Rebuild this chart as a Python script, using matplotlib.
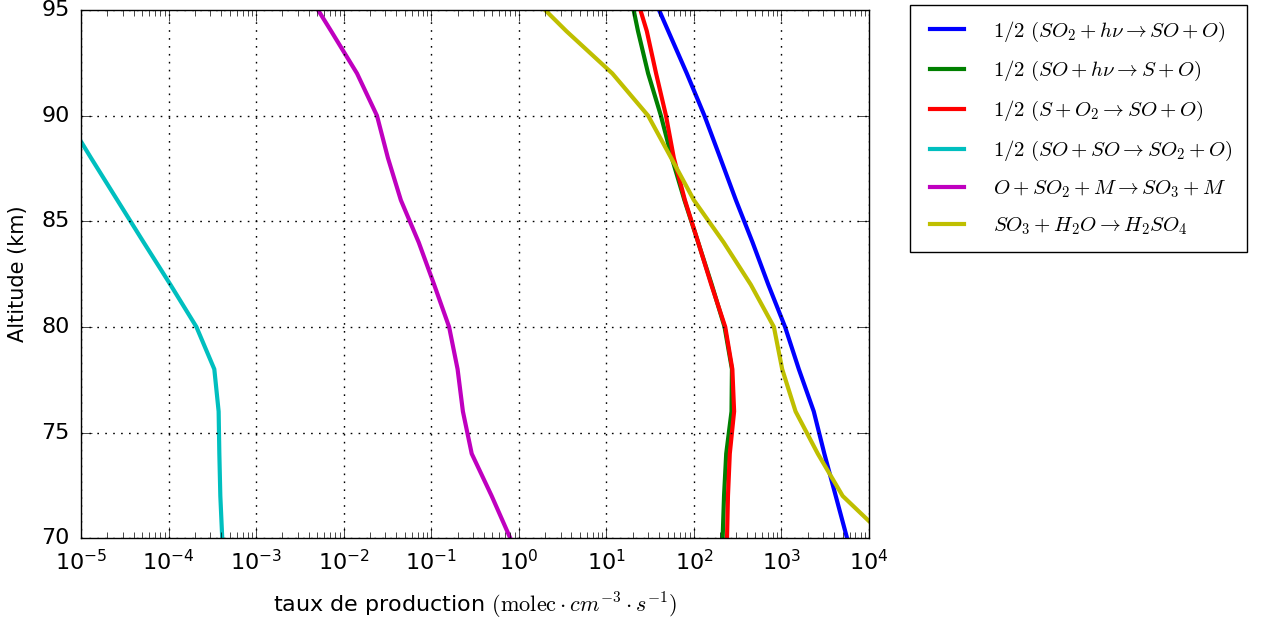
import numpy as np
import matplotlib
matplotlib.use("Agg")
import matplotlib.pyplot as plt

plt.style.use('classic')
plt.rcParams['figure.facecolor'] = 'white'
plt.rcParams['savefig.facecolor'] = 'white'

# altitude grid (km)
altitude = [70, 72, 74, 76, 78, 80, 82, 84, 86, 88, 90, 92, 94, 95]

# production rates (molec cm-3 s-1)
so2_photolysis = [5620, 4170, 3090, 2340, 1580, 1100, 708, 468, 302, 200, 132, 83, 51, 40]
so_photolysis = [213, 221, 234, 269, 272, 224, 160, 112, 78, 56, 42, 30, 23, 20.5]
s_plus_o2 = [239, 245, 257, 288, 275, 228, 158, 112, 79, 59, 48, 37, 29, 24.5]
so_plus_so = [4.1e-4, 3.9e-4, 3.8e-4, 3.73e-4, 3.33e-4, 2.08e-4, 1.05e-4, 5.2e-5,
              2.6e-5, 1.3e-5, 6.6e-6, 3.3e-6, 1.7e-6, 1.2e-6]
o_so2_m = [0.80, 0.49, 0.29, 0.23, 0.20, 0.16, 0.108, 0.072, 0.045, 0.032, 0.024,
           0.0142, 0.0072, 0.0051]
so3_h2o = [16000, 5000, 2600, 1450, 1020, 820, 447, 219, 100, 55, 30, 11.7, 3.5, 2.0]

labels = [
    r'$1/2\ (SO_2 + h\nu \rightarrow SO + O)$',
    r'$1/2\ (SO + h\nu \rightarrow S + O)$',
    r'$1/2\ (S + O_2 \rightarrow SO + O)$',
    r'$1/2\ (SO + SO \rightarrow SO_2 + O)$',
    r'$O + SO_2 + M \rightarrow SO_3 + M$',
    r'$SO_3 + H_2O \rightarrow H_2SO_4$',
]
series = [so2_photolysis, so_photolysis, s_plus_o2, so_plus_so, o_so2_m, so3_h2o]
colors = ['b', 'g', 'r', 'c', 'm', 'y']

fig = plt.figure(figsize=(12.74, 6.28), dpi=100)
ax = fig.add_axes([0.0636, 0.143, 0.6185, 0.841])

for vals, lab, col in zip(series, labels, colors):
    ax.plot(vals, altitude, color=col, lw=3, label=lab)

ax.set_xscale('log')
ax.set_xlim(1e-5, 1e4)
ax.set_ylim(70, 95)
ax.grid(True, linestyle=(0, (1.2, 4.5)), linewidth=1.0, color='k')
ax.set_xlabel(r'taux de production $(\mathrm{molec} \cdot cm^{-3} \cdot s^{-1})$',
              fontsize=16, labelpad=12)
ax.set_ylabel('Altitude (km)', fontsize=15, labelpad=10)
ax.tick_params(which='major', labelsize=16, length=8, pad=8)
ax.tick_params(which='minor', length=4)

fig.legend(loc='upper left', bbox_to_anchor=(0.714, 0.992), borderaxespad=0,
           fontsize=15, handlelength=2.2, borderpad=0.7, labelspacing=0.75,
           handletextpad=1.1)

fig.savefig('out.png', dpi=100)
